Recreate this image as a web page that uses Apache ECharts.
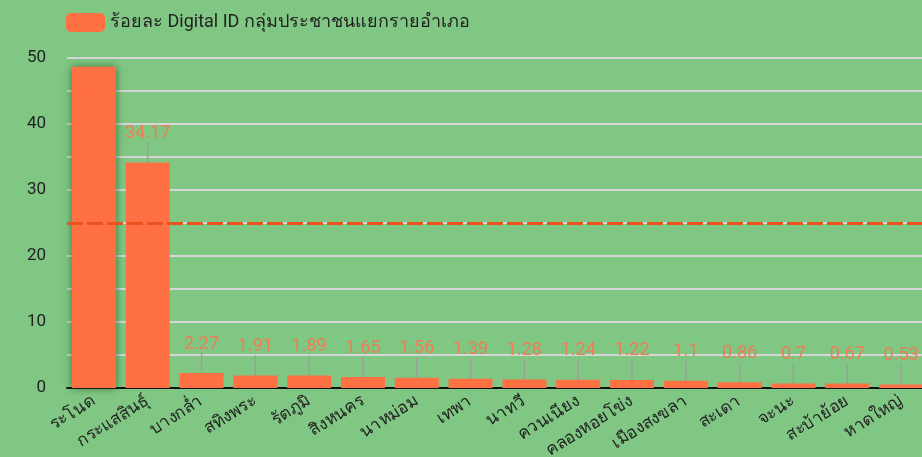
<!DOCTYPE html>
<html>
<head>
<meta charset="utf-8">
<script src="https://cdn.jsdelivr.net/npm/echarts@6/dist/echarts.min.js"></script>
<style>
  html, body { margin: 0; padding: 0; background: #81c784; }
  #chart { width: 922px; height: 457px; }
</style>
</head>
<body>
<div id="chart"></div>
<script>
// อำเภอ
const districts = ['ระโนด', 'กระแสสินธุ์', 'บางกล่ำ', 'สทิงพระ', 'รัตภูมิ', 'สิงหนคร', 'นาหม่อม', 'เทพา',
  'นาทวี', 'ควนเนียง', 'คลองหอยโข่ง', 'เมืองสงขลา', 'สะเดา', 'จะนะ', 'สะบ้าย้อย', 'หาดใหญ่']
// ร้อยละ Digital ID
const percents = [48.69, 34.17, 2.27, 1.91, 1.89, 1.65, 1.56, 1.39, 1.28, 1.24, 1.22, 1.1, 0.86, 0.7, 0.67, 0.53]
const targetLine = 25
const seriesName = 'ร้อยละ Digital ID กลุ่มประชาชนแยกรายอำเภอ'

const font = 'Roboto, "Noto Sans", sans-serif'
const chart = echarts.init(document.getElementById('chart'))

const options = {
  backgroundColor: '#81c784',
  animation: false,
  legend: {
    left: 61,
    top: 8,
    itemWidth: 39,
    itemHeight: 19,
    itemGap: 10,
    textStyle: { fontSize: 18, color: '#222', fontFamily: font },
    data: [seriesName]
  },
  // ไม่ให้ป้ายแกนบีบพื้นที่กราฟ
  grid: { left: 67, right: -6, top: 58, bottom: 69, containLabel: false, outerBoundsMode: 'none' },
  xAxis: {
    type: 'category',
    data: districts,
    axisLine: { lineStyle: { color: '#111', width: 2 } },
    axisTick: { show: false },
    axisLabel: {
      interval: 0,
      rotate: 32,
      margin: 12,
      fontSize: 17,
      color: '#222',
      fontFamily: font
    }
  },
  yAxis: {
    type: 'value',
    min: 0,
    max: 50,
    interval: 5,
    axisLine: { show: false },
    axisTick: { show: false },
    axisLabel: {
      margin: 21,
      fontSize: 17,
      color: '#222',
      fontFamily: font,
      formatter: (v) => (v % 10 === 0 ? v : '')
    },
    splitLine: { lineStyle: { color: '#d6d6d6', width: 2 } }
  },
  series: [
    {
      name: seriesName,
      type: 'bar',
      barWidth: 44,
      data: percents.map((v, i) => i === 0
        ? { value: v, itemStyle: { shadowBlur: 8, shadowColor: 'rgba(20,70,20,0.7)' }, label: { color: '#ff7043' } }
        : v),
      itemStyle: { color: '#ff7043' },
      label: {
        show: true,
        position: 'top',
        distance: 5,
        fontSize: 18,
        color: '#ec7f56',
        fontFamily: font
      },
      labelLine: { show: true, lineStyle: { color: '#9e9e9e', width: 1.5 } },
      labelLayout: (p) => (p.dataIndex === 0 ? { dy: 42 } : { dy: -15 }),
      markLine: {
        silent: true,
        symbol: 'none',
        label: { show: false },
        lineStyle: { color: '#e8531f', type: [16, 4], width: 3 },
        data: [{ yAxis: targetLine }]
      }
    }
  ]
}

chart.setOption(options)
</script>
</body>
</html>
